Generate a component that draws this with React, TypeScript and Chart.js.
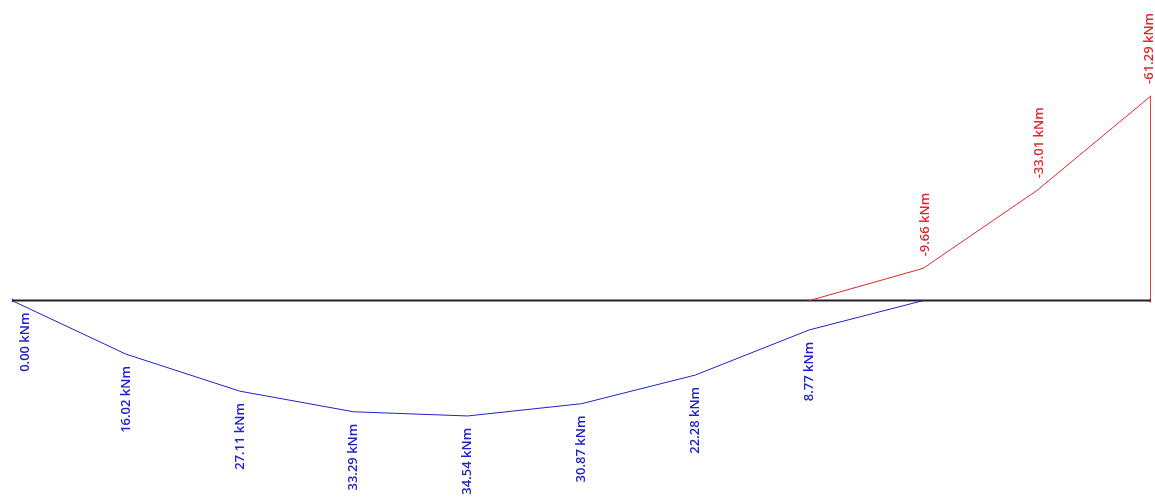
import React, { useEffect, useRef } from "react";
import { Chart, registerables } from "chart.js";

Chart.register(...registerables);

// Stations along the beam (node index)
const beamStations = [0, 10];
const beamMoments = [0, 0];

// Sagging moments (blue, drawn below the beam)
const sagStations = [0, 1, 2, 3, 4, 5, 6, 7, 8];
const sagMoments = [0.0, 16.02, 27.11, 33.29, 34.54, 30.87, 22.28, 8.77, 0];
const sagLabels = ["0.00 kNm", "16.02 kNm", "27.11 kNm", "33.29 kNm", "34.54 kNm", "30.87 kNm", "22.28 kNm", "8.77 kNm", ""];

// Hogging moments (red, drawn above the beam)
const hogStations = [7, 8, 9, 10, 10];
const hogMoments = [0, -9.66, -33.01, -61.29, 0];
const hogLabels = ["", "-9.66 kNm", "-33.01 kNm", "-61.29 kNm", ""];

// Supports
const supportStations = [0, 10];
const supportMoments = [0, 0];

const BLUE = "#2020cc";
const RED = "#e3262b";

const labelPlugin = {
  id: "momentLabels",
  afterDatasetsDraw(chart: any) {
    const ctx = chart.ctx;
    const xs = chart.scales.x;
    const ys = chart.scales.y;
    ctx.save();
    ctx.font = '600 13px "Open Sans", "DejaVu Sans", sans-serif';
    ctx.textBaseline = "middle";
    const W = chart.width;
    sagStations.forEach((s, i) => {
      const t = sagLabels[i];
      if (!t) return;
      const px = Math.max(xs.getPixelForValue(s), 25);
      const py = ys.getPixelForValue(sagMoments[i]);
      ctx.save();
      ctx.translate(Math.min(px, W - 8), py + 12);
      ctx.rotate(-Math.PI / 2);
      ctx.textAlign = "right";
      ctx.fillStyle = BLUE;
      ctx.fillText(t, 0, 0);
      ctx.restore();
    });
    hogStations.forEach((s, i) => {
      const t = hogLabels[i];
      if (!t) return;
      const px = Math.min(xs.getPixelForValue(s), W - 8);
      const py = ys.getPixelForValue(hogMoments[i]);
      ctx.save();
      ctx.translate(px + 2, py - 12);
      ctx.rotate(-Math.PI / 2);
      ctx.textAlign = "left";
      ctx.fillStyle = RED;
      ctx.fillText(t, 0, 0);
      ctx.restore();
    });
    ctx.restore();
  },
};

const toPts = (xs: number[], ys: number[]) => xs.map((x, i) => ({ x, y: ys[i] }));

export default function App() {
  const ref = useRef<HTMLCanvasElement>(null);
  useEffect(() => {
    document.body.style.margin = "0";
    document.body.style.background = "#ffffff";
    const chart = new Chart(ref.current as HTMLCanvasElement, {
      type: "scatter",
      data: {
        datasets: [
          {
            data: toPts(sagStations, sagMoments),
            showLine: true,
            borderColor: BLUE,
            borderWidth: 1,
            pointRadius: 0,
          },
          {
            data: toPts(hogStations, hogMoments),
            showLine: true,
            borderColor: RED,
            borderWidth: 1,
            pointRadius: 0,
          },
          {
            data: toPts(beamStations, beamMoments),
            showLine: true,
            borderColor: "#222222",
            borderWidth: 2,
            pointRadius: 0,
          },
          {
            data: toPts(supportStations, supportMoments),
            showLine: false,
            pointRadius: 2,
            pointBackgroundColor: RED,
            pointBorderColor: RED,
            borderWidth: 0,
          },
        ],
      },
      options: {
        animation: false,
        responsive: false,
        maintainAspectRatio: false,
        layout: { padding: { left: 12, right: 3, top: 0, bottom: 0 } },
        plugins: { legend: { display: false }, tooltip: { enabled: false } },
        scales: {
          x: { type: "linear", min: 0, max: 10, display: false },
          y: { type: "linear", min: -88.8, max: 59.1, reverse: true, display: false },
        },
      } as any,
      plugins: [labelPlugin],
    });
    return () => chart.destroy();
  }, []);
  return <canvas ref={ref} width={1155} height={502} style={{ display: "block", width: 1155, height: 502 }} />;
}
